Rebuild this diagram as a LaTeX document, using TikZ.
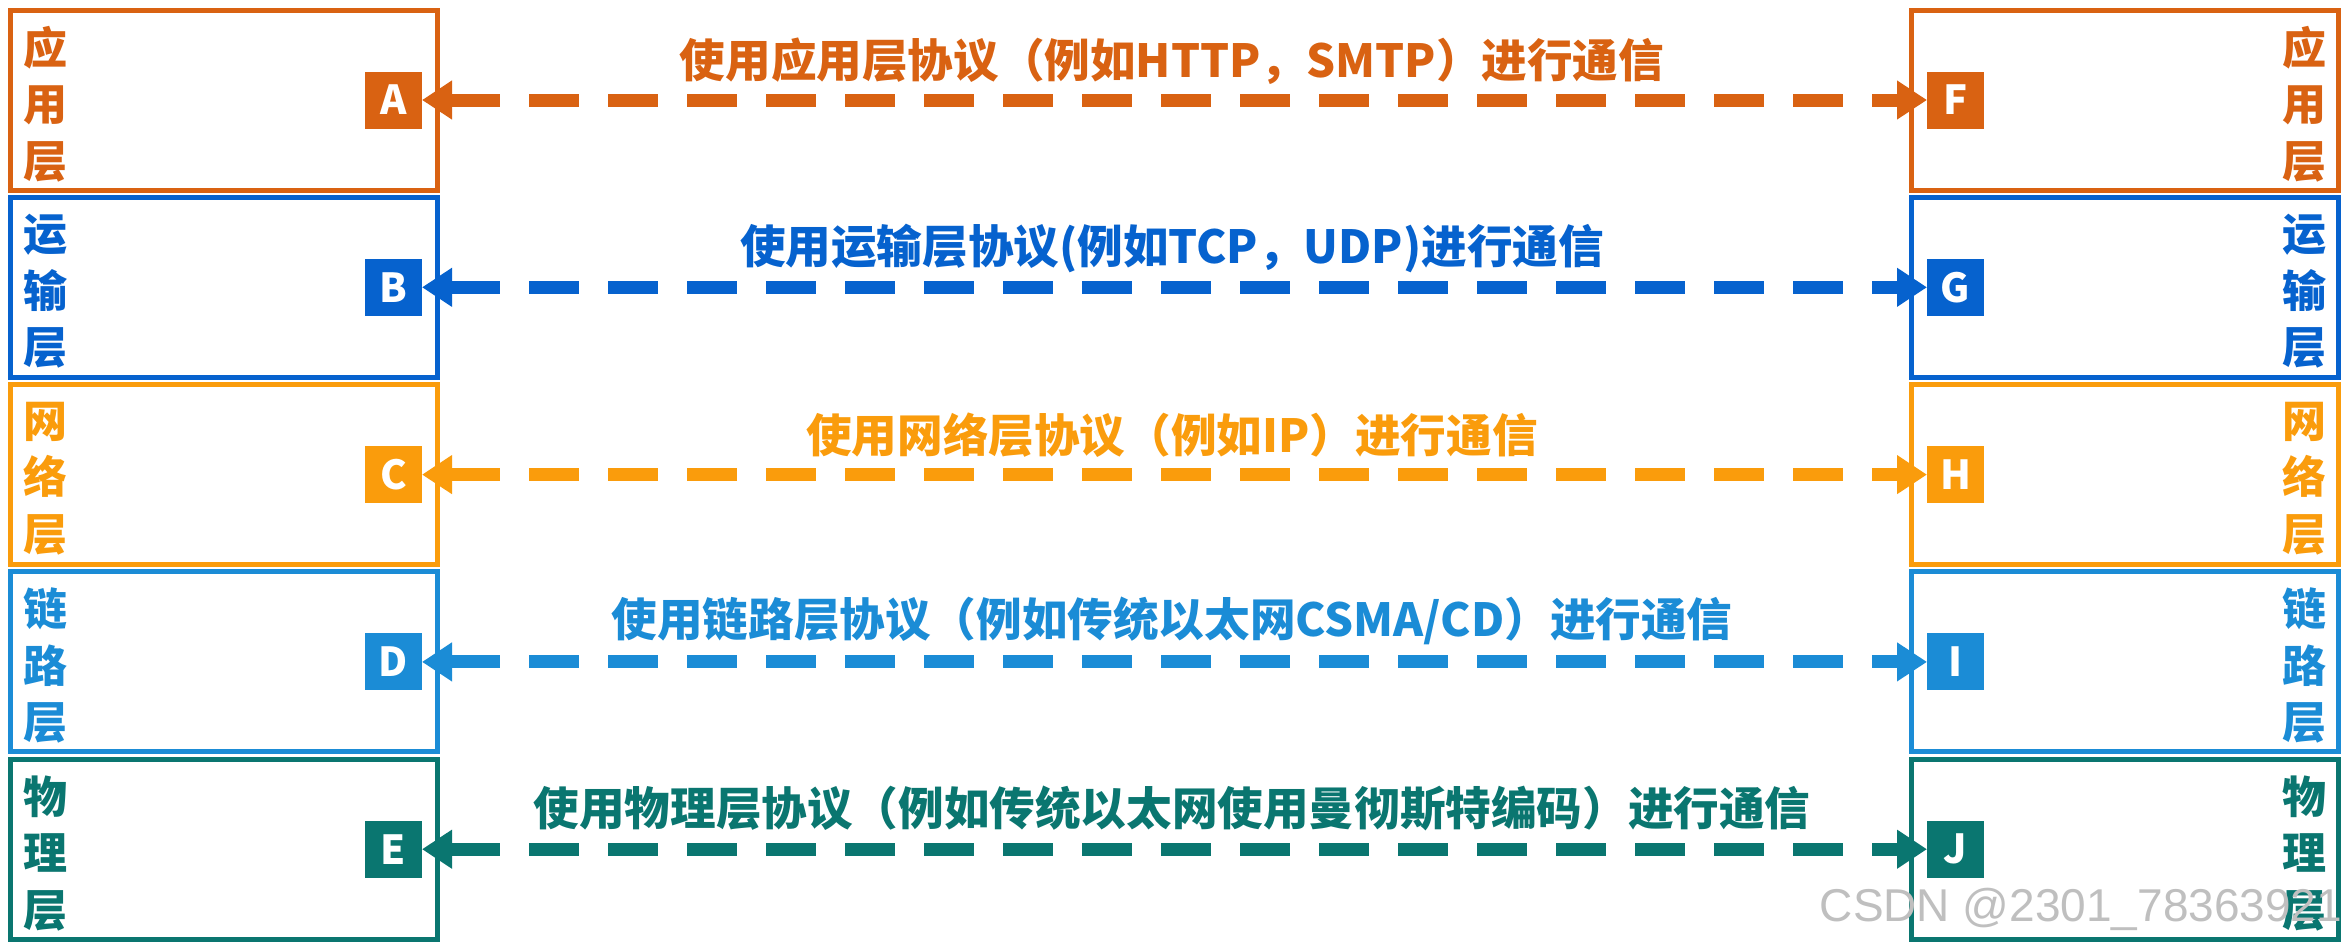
\documentclass[tikz,border=0pt]{standalone}
\usepackage{fontspec}
\setmainfont{Noto Sans CJK SC}
\newfontfamily\wmfont{Liberation Sans}
\usetikzlibrary{arrows.meta}
\definecolor{cA}{RGB}{217,98,18}
\definecolor{cB}{RGB}{6,98,206}
\definecolor{cC}{RGB}{250,156,12}
\definecolor{cD}{RGB}{27,140,214}
\definecolor{cE}{RGB}{10,118,112}
\begin{document}
\begin{tikzpicture}[x=0.5pt,y=-0.5pt,
  layerbox/.style={draw=#1,line width=2.5pt,minimum width=213.5pt,minimum height=90pt,inner sep=0pt,outer sep=0pt},
  sq/.style={fill=#1,text=white,minimum size=28.5pt,inner sep=0pt,outer sep=0pt,font=\bfseries\fontsize{20pt}{20pt}\selectfont},
  sidetext/.style={text=#1,align=center,inner sep=0pt,font=\bfseries\fontsize{22pt}{28.25pt}\selectfont},
  midtext/.style={text=#1,inner sep=0pt,font=\bfseries\fontsize{22.8pt}{22.8pt}\selectfont},
  conn/.style={draw=#1,line width=6.5pt,dash pattern=on 25pt off 14.5pt,
    {Triangle[length=15pt,width=18.5pt]}-{Triangle[length=15pt,width=18.5pt]}}
]
\useasboundingbox[fill=white] (0,0) rectangle (2350,949);
% left and right stacks
\foreach \i/\c/\l/\r/\t in {0/cA/A/F/{应\\用\\层},1/cB/B/G/{运\\输\\层},2/cC/C/H/{网\\络\\层},3/cD/D/I/{链\\路\\层},4/cE/E/J/{物\\理\\层}}{
  \pgfmathsetmacro{\yy}{100+187.3*\i}
  \node[layerbox=\c] (boxL\i) at (224,\yy) {};
  \node[layerbox=\c] (boxR\i) at (2125,\yy) {};
  \node[sq=\c] (\l) at (393.5,\yy) {\l};
  \node[sq=\c] (\r) at (1955.5,\yy) {\r};
  \node[sidetext=\c] (sideL\i) at (46,\yy+4) {\t};
  \node[sidetext=\c] (sideR\i) at (2304,\yy+4) {\t};
  \draw[conn=\c] (\l.east) -- (\r.west);
}
\node[midtext=cA] (tA) at (1172,61) {使用应用层协议（例如HTTP，SMTP）进行通信};
\node[midtext=cB] (tB) at (1172,248) {使用运输层协议(例如TCP，UDP)进行通信};
\node[midtext=cC] (tC) at (1172,435) {使用网络层协议（例如IP）进行通信};
\node[midtext=cD] (tD) at (1172,621) {使用链路层协议（例如传统以太网CSMA/CD）进行通信};
\node[midtext=cE] (tE) at (1172,808) {使用物理层协议（例如传统以太网使用曼彻斯特编码）进行通信};
\node[text=black!25,inner sep=0pt,font=\wmfont\fontsize{23pt}{23pt}\selectfont] (wm) at (2081,909) {CSDN @2301\_78363921};
\end{tikzpicture}
\end{document}
